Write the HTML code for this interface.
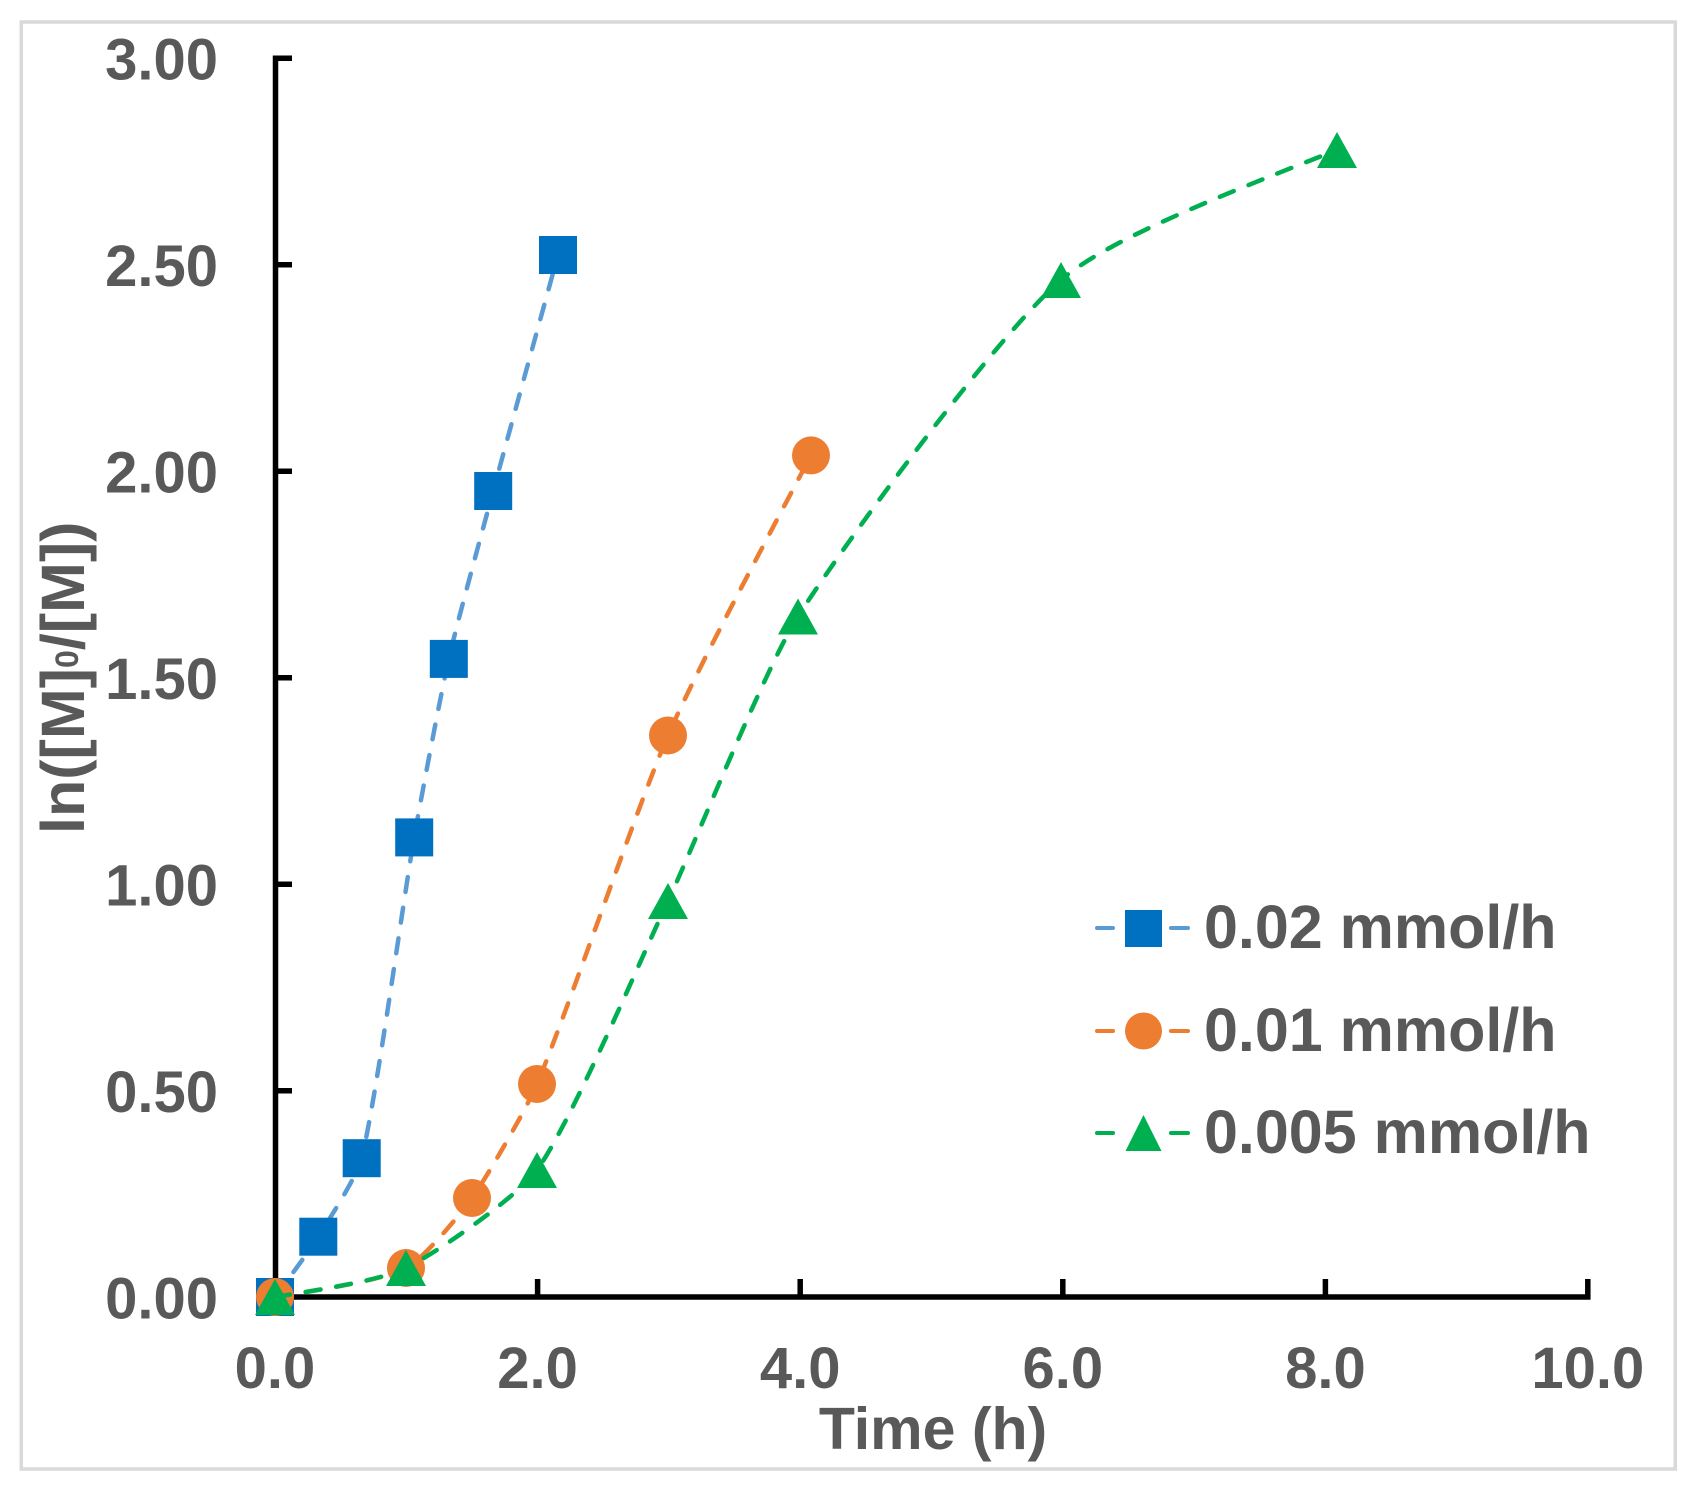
<!DOCTYPE html>
<html>
<head>
<meta charset="utf-8">
<style>
  html, body { margin: 0; padding: 0; background: #ffffff; }
  svg { display: block; }
  text { font-family: "Liberation Sans", Arial, sans-serif; font-weight: bold; fill: #595959; }
</style>
</head>
<body>
<svg id="chart" width="1697" height="1492" viewBox="0 0 1697 1492" xmlns="http://www.w3.org/2000/svg">
  <rect x="0" y="0" width="1697" height="1492" fill="#ffffff"/>
  <!-- chart border -->
  <rect x="21.3" y="22" width="1654" height="1447" fill="none" stroke="#d9d9d9" stroke-width="3.5"/>

  <!-- Y axis -->
  <g stroke="#000" stroke-width="5.5" fill="none">
    <line x1="275.5" y1="55.5" x2="275.5" y2="1299.5"/>
    <line x1="273" y1="58.3" x2="292" y2="58.3"/>
    <line x1="273" y1="264.8" x2="292" y2="264.8"/>
    <line x1="273" y1="471.3" x2="292" y2="471.3"/>
    <line x1="273" y1="677.8" x2="292" y2="677.8"/>
    <line x1="273" y1="884.3" x2="292" y2="884.3"/>
    <line x1="273" y1="1090.8" x2="292" y2="1090.8"/>
    <!-- X axis -->
    <line x1="273" y1="1297" x2="1590.5" y2="1297"/>
    <line x1="537.6" y1="1279" x2="537.6" y2="1299"/>
    <line x1="800.2" y1="1279" x2="800.2" y2="1299"/>
    <line x1="1062.8" y1="1279" x2="1062.8" y2="1299"/>
    <line x1="1325.4" y1="1279" x2="1325.4" y2="1299"/>
    <line x1="1587.8" y1="1279" x2="1587.8" y2="1299"/>
  </g>

  <!-- Y tick labels -->
  <g font-size="58" text-anchor="end">
    <text x="218" y="79.3">3.00</text>
    <text x="218" y="285.8">2.50</text>
    <text x="218" y="492.3">2.00</text>
    <text x="218" y="698.8">1.50</text>
    <text x="218" y="905.3">1.00</text>
    <text x="218" y="1111.8">0.50</text>
    <text x="218" y="1318.3">0.00</text>
  </g>

  <!-- X tick labels -->
  <g font-size="58" text-anchor="middle">
    <text x="275" y="1388">0.0</text>
    <text x="537.6" y="1388">2.0</text>
    <text x="800.2" y="1388">4.0</text>
    <text x="1062.8" y="1388">6.0</text>
    <text x="1325.4" y="1388">8.0</text>
    <text x="1587.8" y="1388">10.0</text>
  </g>

  <!-- Axis titles -->
  <text x="933" y="1449" font-size="59" text-anchor="middle">Time (h)</text>
  <text transform="translate(84,834) rotate(-90)" font-size="61" x="0" y="0">ln([M]<tspan font-size="32" dy="-6">0</tspan><tspan dy="6">/[M])</tspan></text>

  <!-- Series -->
  <g id="series"></g>

  <!-- Legend -->
  <g stroke-width="4" stroke-linecap="round">
    <line x1="1097" y1="928" x2="1113" y2="928" stroke="#5B9BD5"/>
    <line x1="1171" y1="928" x2="1188" y2="928" stroke="#5B9BD5"/>
    <line x1="1097" y1="1031" x2="1113" y2="1031" stroke="#ED7D31"/>
    <line x1="1171" y1="1031" x2="1188" y2="1031" stroke="#ED7D31"/>
    <line x1="1097" y1="1133" x2="1113" y2="1133" stroke="#00B050"/>
    <line x1="1171" y1="1133" x2="1188" y2="1133" stroke="#00B050"/>
  </g>
  <rect x="1125" y="910" width="37" height="37" fill="#0070C0"/>
  <circle cx="1143.5" cy="1031" r="18.5" fill="#ED7D31"/>
  <polygon points="1143.5,1115 1161.5,1151 1125.5,1151" fill="#00B050"/>
  <g font-size="61">
    <text x="1204" y="948">0.02 mmol/h</text>
    <text x="1204" y="1051">0.01 mmol/h</text>
    <text x="1204" y="1153">0.005 mmol/h</text>
  </g>
</svg>

<script>
(function(){
  var NS = "http://www.w3.org/2000/svg";
  var g = document.getElementById("series");
  var K = 0.2;
  function sub(a,b){return [a[0]-b[0],a[1]-b[1]];}
  function len(v){return Math.sqrt(v[0]*v[0]+v[1]*v[1]);}
  function unit(v){var l=len(v)||1;return [v[0]/l,v[1]/l];}
  function smooth(pts){
    var n = pts.length;
    var d = "M" + pts[0][0] + "," + pts[0][1];
    var tan = [];
    for (var i = 0; i < n; i++){
      if (i === 0 || i === n-1) { tan.push(null); continue; }
      tan.push(unit(sub(pts[i+1], pts[i-1])));
    }
    for (var j = 0; j < n - 1; j++){
      var p1 = pts[j], p2 = pts[j+1];
      var chord = sub(p2, p1);
      var L = len(chord);
      var c1 = null, c2 = null;
      if (tan[j]) c1 = [p1[0]+tan[j][0]*L*K, p1[1]+tan[j][1]*L*K];
      if (tan[j+1]) c2 = [p2[0]-tan[j+1][0]*L*K, p2[1]-tan[j+1][1]*L*K];
      if (!c1 && !c2) { c1 = [p1[0]+chord[0]/3, p1[1]+chord[1]/3]; c2 = [p2[0]-chord[0]/3, p2[1]-chord[1]/3]; }
      else if (!c1) { c1 = [p1[0]+(c2[0]-p1[0])*0.5, p1[1]+(c2[1]-p1[1])*0.5]; }
      else if (!c2) { c2 = [p2[0]+(c1[0]-p2[0])*0.5, p2[1]+(c1[1]-p2[1])*0.5]; }
      d += " C" + c1[0].toFixed(1) + "," + c1[1].toFixed(1) + " " + c2[0].toFixed(1) + "," + c2[1].toFixed(1) + " " + p2[0] + "," + p2[1];
    }
    return d;
  }
  function el(name, attrs){
    var e = document.createElementNS(NS, name);
    for (var k in attrs) e.setAttribute(k, attrs[k]);
    g.appendChild(e);
    return e;
  }
  var series = [
    { line: "#5B9BD5", fill: "#0070C0", type: "sq",
      pts: [[275,1297],[318.3,1236.7],[361.7,1158.2],[414.2,837.4],[448.8,658.9],[493.2,491.0],[558.0,255.0]] },
    { line: "#ED7D31", fill: "#ED7D31", type: "ci",
      pts: [[275,1297],[406,1268],[472,1198],[537,1084],[668,735.5],[811,455.4]] },
    { line: "#00B050", fill: "#00B050", type: "tr",
      pts: [[275,1297],[406,1268],[537,1170],[668,901],[798,616.5],[1061,280],[1337,150]] }
  ];
  series.forEach(function(s){
    el("path", { d: smooth(s.pts), fill: "none", stroke: s.line, "stroke-width": "4.5",
                 "stroke-dasharray": "15 16", "stroke-linecap": "round" });
    s.pts.forEach(function(p){
      if (s.type === "sq"){
        el("rect", { x: p[0] - 19, y: p[1] - 19, width: 38, height: 38, fill: s.fill });
      } else if (s.type === "ci"){
        el("circle", { cx: p[0], cy: p[1], r: 19, fill: s.fill });
      } else {
        var x = p[0], y = p[1];
        el("polygon", { points: x + "," + (y - 18) + " " + (x + 20) + "," + (y + 18) + " " + (x - 20) + "," + (y + 18), fill: s.fill });
      }
    });
  });
})();
</script>
</body>
</html>
